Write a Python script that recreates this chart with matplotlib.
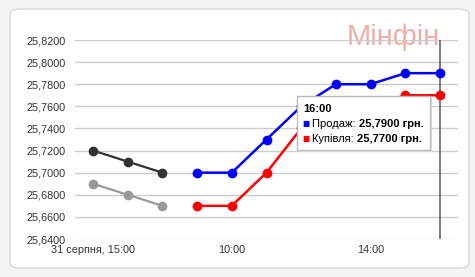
import matplotlib
matplotlib.use("Agg")
import matplotlib.pyplot as plt
from matplotlib.patches import FancyBboxPatch, Rectangle
from matplotlib.text import Annotation
from matplotlib.ticker import FuncFormatter

plt.rcParams['font.family'] = ['Liberation Sans', 'DejaVu Sans']

# ---- data ----
prev_idx = [0, 1, 2]
prev_sell = [25.72, 25.71, 25.70]
prev_buy = [25.69, 25.68, 25.67]
today_idx = [3, 4, 5, 6, 7, 8, 9, 10]
today_sell = [25.70, 25.70, 25.73, 25.76, 25.78, 25.78, 25.79, 25.79]
today_buy = [25.67, 25.67, 25.70, 25.74, 25.76, 25.76, 25.77, 25.77]
tick_pos = [0, 4, 8]
tick_labels = ["31 серпня, 15:00", "10:00", "14:00"]
y_ticks = [25.64, 25.66, 25.68, 25.70, 25.72, 25.74, 25.76, 25.78, 25.80, 25.82]
tooltip_time = "16:00"
tooltip_sell = "25,7900 грн."
tooltip_buy = "25,7700 грн."
watermark = "Мінфін"

W, H = 475, 277
fig = plt.figure(figsize=(W / 100, H / 100), dpi=100)
fig.patch.set_facecolor('#f4f4f4')

# white rounded panel
panel = FancyBboxPatch((10 / W, 9 / H), 459 / W, 259 / H,
                       boxstyle="round,pad=0,rounding_size=0.02",
                       transform=fig.transFigure, facecolor='white',
                       edgecolor='#d8d8d8', linewidth=1, zorder=0)
fig.add_artist(panel)

# watermark
fig.text(440 / W, 1 - 37 / H, watermark, fontsize=21, color='#efa49e',
         alpha=0.9, ha='right', va='center', zorder=0.5)

ax = fig.add_axes([75 / W, 1 - 239 / H, (458 - 75) / W, (239 - 40) / H], zorder=1)
ax.set_facecolor('none')
ax.set_xlim(-0.52, 10.52)
ax.set_ylim(25.64, 25.82)
for s in ax.spines.values():
    s.set_visible(False)
ax.set_yticks(y_ticks)
ax.yaxis.set_major_formatter(FuncFormatter(lambda v, p: f"{v:.4f}".replace('.', ',')))
ax.set_xticks(tick_pos)
ax.set_xticklabels(tick_labels)
ax.tick_params(axis='both', length=0, labelsize=7.8, colors='#333333')
ax.tick_params(axis='y', pad=7)
ax.tick_params(axis='x', pad=4)
ax.grid(axis='y', color='#cccccc', linewidth=1)
ax.set_axisbelow(True)

ms = 6
ax.plot(prev_idx, prev_sell, color='#333333', lw=1.6, marker='o', ms=ms, zorder=3)
ax.plot(prev_idx, prev_buy, color='#999999', lw=1.6, marker='o', ms=ms, zorder=3)
ax.plot(today_idx, today_sell, color='#0000ff', lw=1.8, marker='o', ms=ms, zorder=3)
ax.plot(today_idx, today_buy, color='#ff0000', lw=1.8, marker='o', ms=ms, zorder=3)

# crosshair at last point
ax.axvline(today_idx[-1], color='#666666', lw=1.2, zorder=2)

# tooltip
x0, x1, y0, y1 = 297, 430, 96, 150
shadow = Rectangle(((x0 + 2) / W, 1 - (y1 + 2) / H), (x1 - x0) / W, (y1 - y0) / H,
                   transform=fig.transFigure, facecolor='#dddddd', edgecolor='none', zorder=5)
box = Rectangle((x0 / W, 1 - y1 / H), (x1 - x0) / W, (y1 - y0) / H,
                transform=fig.transFigure, facecolor='white', edgecolor='#bbbbbb',
                linewidth=1, zorder=6)
fig.add_artist(shadow)
fig.add_artist(box)
fs = 8
fig.text(303 / W, 1 - 109 / H, tooltip_time, fontsize=fs, weight='bold', va='center', zorder=7)
rows = [("Продаж: ", tooltip_sell, '#0000ff', 124), ("Купівля: ", tooltip_buy, '#ff0000', 139)]
for lab, val, col, yy in rows:
    fig.text(302.5 / W, 1 - yy / H, "■", fontsize=5.5, color=col, va='center', zorder=7,
             family='DejaVu Sans')
    t = fig.text(312 / W, 1 - yy / H, lab, fontsize=fs, va='center', zorder=7)
    fig.add_artist(Annotation(val, xy=(1, 0.5), xycoords=t, va='center', ha='left',
                              fontsize=fs, weight='bold', zorder=7))

fig.savefig('out.png', dpi=100, facecolor=fig.get_facecolor())
